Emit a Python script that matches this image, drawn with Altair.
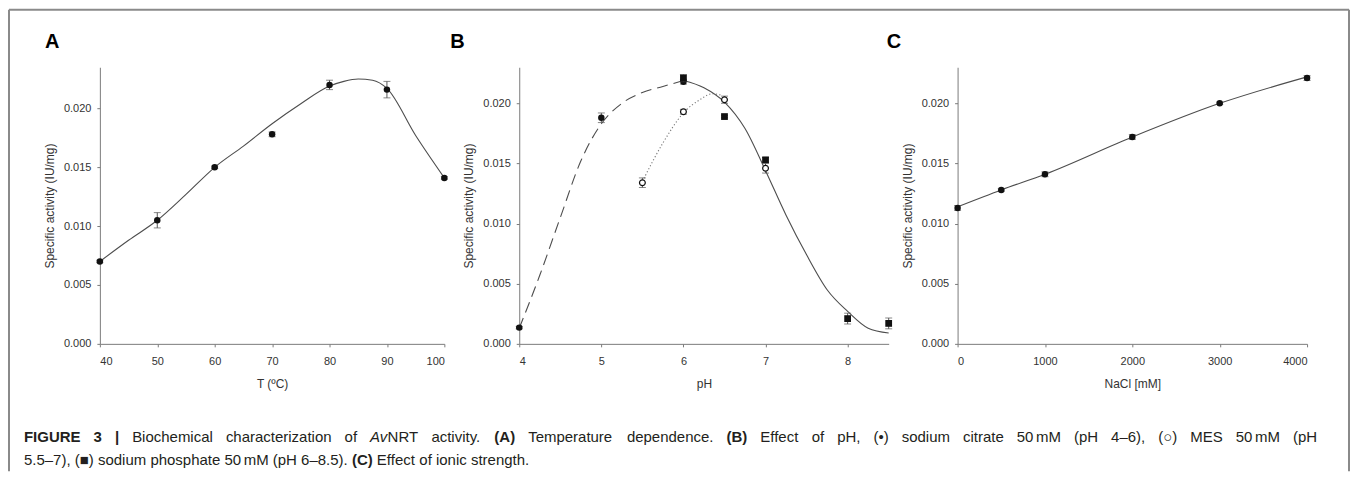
import altair as alt
import pandas as pd

# ---------------- data ----------------
# Panel A: temperature dependence
temp_c = [40, 50, 60, 70, 80, 90, 100]
act_temp = [0.0070, 0.0105, 0.0150, 0.0178, 0.0220, 0.0216, 0.0141]
err_temp = [0.0001, 0.00065, 0.0001, 0.0002, 0.0004, 0.0007, 0.0001]
fit_temp_x = [40, 45, 50, 55, 60, 65, 70, 75, 80, 82.5, 85, 87.5, 90, 95, 100]
fit_temp_y = [0.0070, 0.0088, 0.0105, 0.0127, 0.0150, 0.0168, 0.0187, 0.0204,
              0.0219, 0.0223, 0.0225, 0.0224, 0.0217, 0.0177, 0.0141]

# Panel B: pH dependence
ph_citrate = [4, 5, 6]
act_citrate = [0.00135, 0.0188, 0.0218]
err_citrate = [0.0001, 0.0004, 0.0002]
ph_mes = [5.5, 6, 6.5, 7]
act_mes = [0.0134, 0.0193, 0.0203, 0.0146]
err_mes = [0.0004, 0.0002, 0.0003, 0.0004]
ph_phos = [6, 6.5, 7, 8, 8.5]
act_phos = [0.0221, 0.0189, 0.0153, 0.0021, 0.0017]
err_phos = [0.0003, 0.0001, 0.0002, 0.00045, 0.00045]
fit_citrate_x = [4, 4.25, 4.5, 4.75, 5, 5.25, 5.5, 5.75, 6]
fit_citrate_y = [0.0013, 0.0057, 0.0105, 0.0152, 0.0183, 0.0200, 0.0209, 0.0214, 0.0219]
fit_mes_x = [5.5, 5.75, 6, 6.2, 6.35, 6.45]
fit_mes_y = [0.0135, 0.0167, 0.0192, 0.0203, 0.0208, 0.0207]
fit_phos_x = [6, 6.25, 6.5, 6.75, 7, 7.25, 7.5, 7.75, 8, 8.25, 8.5]
fit_phos_y = [0.0219, 0.0213, 0.0201, 0.0179, 0.0144, 0.0107, 0.0074, 0.0045,
              0.0027, 0.0013, 0.0009]

# Panel C: ionic strength
nacl_mm = [0, 500, 1000, 2000, 3000, 4000]
act_nacl = [0.0113, 0.0128, 0.0141, 0.0172, 0.0200, 0.0221]
err_nacl = [0.0002, 0.0001, 0.0002, 0.0002, 0.0001, 0.0002]
fit_nacl_x = [0, 500, 1000, 2000, 3000, 4000]
fit_nacl_y = [0.0114, 0.0128, 0.0141, 0.0172, 0.0200, 0.0222]

# axis texts
Y_TITLE = "Specific activity (IU/mg)"
Y_TICKS = [0, 0.005, 0.010, 0.015, 0.020]
X_TICKS_A = [40, 50, 60, 70, 80, 90, 100]
X_TICKS_B = [4, 5, 6, 7, 8]
X_TICKS_C = [0, 1000, 2000, 3000, 4000]
PANEL_LABELS = ["A", "B", "C"]
CAPTION_LINES = [
    "**FIGURE 3 |** Biochemical characterization of *Av*NRT activity. **(A)** Temperature dependence. "
    "**(B)** Effect of pH, (\u2022) sodium citrate 50~mM (pH 4\u20136), (\u25cb) MES 50~mM (pH",
    "5.5\u20137), (\u25a0) sodium phosphate 50~mM (pH 6\u20138.5). **(C)** Effect of ionic strength.",
]

# ---------------- layout (page pixels) ----------------
FONT = "Liberation Sans"
CAP_FONT = "Liberation Sans"
PLOT_TOP = 65.5
H = 277
W_A, GAP1, W_B, GAP2, W_C = 345, 75, 370, 69, 350
X_A = 99
X_G1 = X_A + W_A
X_B = X_G1 + GAP1
X_C = X_B + W_B + GAP2

INK = "#111111"
ERR = "#555555"
LINE = "#4d4d4d"


def xenc(field, dom, vals, title):
    return alt.X(f"{field}:Q", scale=alt.Scale(domain=dom, nice=False, zero=False),
                 axis=alt.Axis(values=vals, format="d", title=title,
                               labelPadding=9, titlePadding=12))


def yenc(field, dom):
    return alt.Y(f"{field}:Q", scale=alt.Scale(domain=dom, nice=False, zero=False),
                 axis=alt.Axis(values=Y_TICKS, format=".3f", title=Y_TITLE,
                               labelPadding=6, titlePadding=7))


def series(xs, ys, es, xdom, ydom, xv, xt, marker):
    df = pd.DataFrame({"x": xs, "y": ys,
                       "lo": [a - b for a, b in zip(ys, es)],
                       "hi": [a + b for a, b in zip(ys, es)]})
    X = xenc("x", xdom, xv, xt)
    stem = alt.Chart(df).mark_rule(color=ERR, strokeWidth=1).encode(
        x=X, y=yenc("lo", ydom), y2="hi:Q")
    cap_lo = alt.Chart(df).mark_tick(orient="horizontal", size=7, thickness=1, color=ERR).encode(
        x=X, y=yenc("lo", ydom))
    cap_hi = alt.Chart(df).mark_tick(orient="horizontal", size=7, thickness=1, color=ERR).encode(
        x=X, y=yenc("hi", ydom))
    if marker == "circle":
        m = alt.Chart(df).mark_circle(size=42, color=INK, opacity=1)
    elif marker == "open":
        m = alt.Chart(df).mark_circle(size=34, color="white", stroke=INK, strokeWidth=1.2, opacity=1)
    else:
        m = alt.Chart(df).mark_square(size=46, color=INK, opacity=1)
    pts = m.encode(x=X, y=yenc("y", ydom))
    return [stem, cap_lo, cap_hi, pts]


def curve(xs, ys, xdom, ydom, xv, xt, dash=None, color=LINE):
    df = pd.DataFrame({"x": xs, "y": ys})
    kw = dict(interpolate="monotone", color=color, strokeWidth=1.1)
    if dash:
        kw["strokeDash"] = dash
    return alt.Chart(df).mark_line(**kw).encode(x=xenc("x", xdom, xv, xt), y=yenc("y", ydom))


def label(text, page_x):
    return alt.Chart(pd.DataFrame({"t": [text]})).mark_text(
        text=text, font=FONT, fontSize=20, fontWeight="bold", align="left",
        baseline="alphabetic", color="#000000").encode(
        x=alt.value(page_x), y=alt.value(46 - PLOT_TOP))


# ---------------- panel A ----------------
domA, ydomA = [40, 100], [0, 0.0235]
panelA = alt.layer(
    curve(fit_temp_x, fit_temp_y, domA, ydomA, X_TICKS_A, "T (\u00baC)"),
    *series(temp_c, act_temp, err_temp, domA, ydomA, X_TICKS_A, "T (\u00baC)", "circle"),
    label(PANEL_LABELS[0], 44 - X_A),
).properties(width=W_A, height=H)

# ---------------- panel B ----------------
domB, ydomB = [4, 8.5], [0, 0.023]
panelB = alt.layer(
    curve(fit_citrate_x, fit_citrate_y, domB, ydomB, X_TICKS_B, "pH", dash=[11, 6]),
    curve(fit_mes_x, fit_mes_y, domB, ydomB, X_TICKS_B, "pH", dash=[1.2, 2.2], color="#777777"),
    curve(fit_phos_x, fit_phos_y, domB, ydomB, X_TICKS_B, "pH"),
    *series(ph_citrate, act_citrate, err_citrate, domB, ydomB, X_TICKS_B, "pH", "circle"),
    *series(ph_phos, act_phos, err_phos, domB, ydomB, X_TICKS_B, "pH", "square"),
    *series(ph_mes, act_mes, err_mes, domB, ydomB, X_TICKS_B, "pH", "open"),
    label(PANEL_LABELS[1], 450 - X_B),
).properties(width=W_B, height=H)

# ---------------- panel C ----------------
domC, ydomC = [0, 4000], [0, 0.023]
panelC = alt.layer(
    curve(fit_nacl_x, fit_nacl_y, domC, ydomC, X_TICKS_C, "NaCl [mM]"),
    *series(nacl_mm, act_nacl, err_nacl, domC, ydomC, X_TICKS_C, "NaCl [mM]", "circle"),
    label(PANEL_LABELS[2], 887 - X_C),
).properties(width=W_C, height=H)

# ---------------- caption + frame (hosted in the first gap cell) ----------------
AR = {' ': 278, '(': 333, ')': 333, ',': 278, '.': 278, '|': 260, '\u2013': 556,
      '\u2022': 350, '\u25cb': 604, '\u25a0': 604,
      'A': 667, 'B': 667, 'C': 722, 'E': 667, 'F': 611, 'G': 778, 'H': 722, 'I': 278,
      'M': 833, 'N': 722, 'R': 722, 'S': 667, 'T': 611, 'U': 722, 'V': 667,
      'a': 556, 'b': 556, 'c': 500, 'd': 556, 'e': 556, 'f': 278, 'g': 556, 'h': 556,
      'i': 222, 'k': 500, 'l': 222, 'm': 833, 'n': 556, 'o': 556, 'p': 556, 'r': 333,
      's': 500, 't': 278, 'u': 556, 'v': 500, 'y': 500, 'z': 500}
for d in "0123456789":
    AR[d] = 556
ARB = {'A': 722, 'B': 722, 'C': 722, 'E': 667, 'F': 611, 'G': 778, 'I': 278, 'R': 722,
       'U': 722, '|': 280}
CAP_FS = 15
THIN = 0.17 * CAP_FS


def em(s, st):
    return sum((ARB.get(c, AR.get(c, 556)) if st == "b" else AR.get(c, 556)) for c in s) / 1000


def parse_line(line):
    words, runs, buf = [], [], ""
    bold = ital = False
    i = 0
    def sty():
        return "b" if bold else ("i" if ital else "n")
    while i < len(line):
        if line.startswith("**", i):
            if buf:
                runs.append((buf, sty())); buf = ""
            bold = not bold; i += 2; continue
        ch = line[i]
        if ch == "*":
            if buf:
                runs.append((buf, sty())); buf = ""
            ital = not ital; i += 1; continue
        if ch == " ":
            if buf:
                runs.append((buf, sty())); buf = ""
            if runs:
                words.append(runs); runs = []
            i += 1; continue
        buf += ch; i += 1
    if buf:
        runs.append((buf, sty()))
    if runs:
        words.append(runs)
    return words


def run_w(t, st):
    return sum(em(p, st) * CAP_FS for p in t.split("~")) + THIN * t.count("~")


cap_x0, cap_x1 = 23, 1318
baselines = [441, 464]
items = []
for li, line in enumerate(CAPTION_LINES):
    words = parse_line(line)
    widths = [sum(run_w(t, s) for t, s in w) for w in words]
    space = AR[' '] / 1000 * CAP_FS
    natural = sum(widths) + space * (len(words) - 1)
    gap = space + ((cap_x1 - cap_x0 - natural) / (len(words) - 1) if li == 0 else 0)
    x = cap_x0
    for w, wd in zip(words, widths):
        xx = x
        for t, s in w:
            for k, p in enumerate(t.split("~")):
                if k > 0:
                    xx += THIN
                items.append({"text": p, "x": xx - X_G1, "y": baselines[li] - PLOT_TOP, "style": s})
                xx += em(p, s) * CAP_FS
        x += wd + gap

cap_df = pd.DataFrame(items)


def cap_layer(st, weight, style):
    return alt.Chart(cap_df[cap_df["style"] == st]).mark_text(
        font=CAP_FONT, fontSize=CAP_FS, fontWeight=weight, fontStyle=style,
        align="left", baseline="alphabetic", color="#231f20").encode(
        x=alt.X("x:Q", scale=None, axis=None), y=alt.Y("y:Q", scale=None, axis=None),
        text="text:N")


frame_df = pd.DataFrame({
    "x": [8 - X_G1, 1350 - X_G1, 8 - X_G1],
    "x2": [8 - X_G1, 1350 - X_G1, 1350 - X_G1],
    "y": [8 - PLOT_TOP, 8 - PLOT_TOP, 8 - PLOT_TOP],
    "y2": [470 - PLOT_TOP, 470 - PLOT_TOP, 8 - PLOT_TOP],
})
frame = alt.Chart(frame_df).mark_rule(color="#8a8a8a", strokeWidth=2).encode(
    x=alt.X("x:Q", scale=None, axis=None), x2="x2:Q",
    y=alt.Y("y:Q", scale=None, axis=None), y2="y2:Q")

gap1 = alt.layer(
    frame,
    cap_layer("n", "normal", "normal"),
    cap_layer("b", "bold", "normal"),
    cap_layer("i", "normal", "italic"),
).properties(width=GAP1, height=H)

gap2 = alt.Chart(pd.DataFrame({"t": [""]})).mark_text(text="").encode(
    x=alt.value(0), y=alt.value(0)).properties(width=GAP2, height=H)

chart = alt.hconcat(panelA, gap1, panelB, gap2, panelC, spacing=0, bounds="flush").properties(
    padding=0
).configure_view(stroke=None).configure_axis(
    grid=False, domainColor="#7a7a7a", tickColor="#7a7a7a", domainWidth=1, tickWidth=1,
    tickSize=3, labelColor="#333333", titleColor="#333333", labelFont=FONT, titleFont=FONT,
    labelFontSize=11, titleFontSize=12, titleFontWeight="normal"
)

chart.save("out.html", embed_options={"renderer": "svg", "actions": False})
